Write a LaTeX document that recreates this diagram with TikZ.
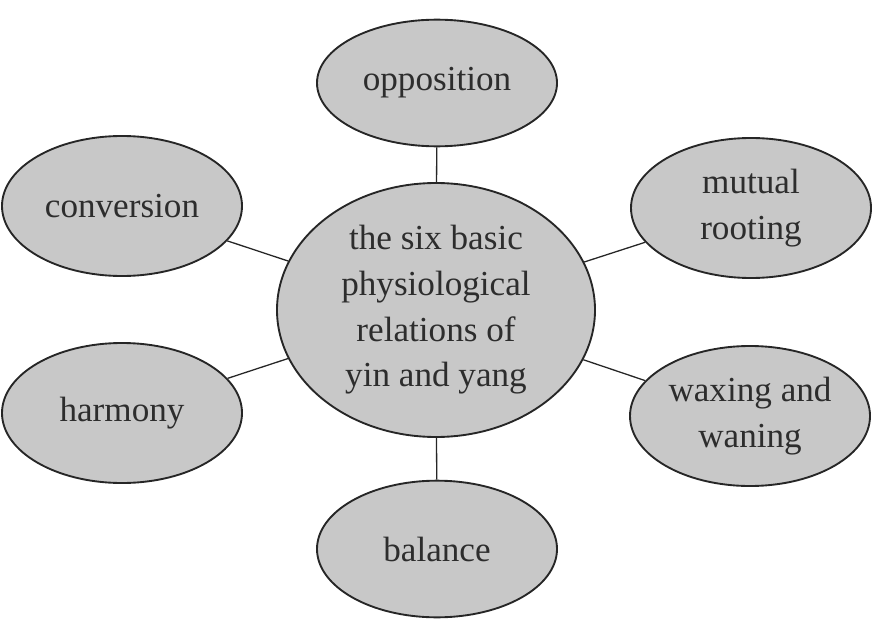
\documentclass[tikz,border=0pt]{standalone}
\usepackage{fontspec}
\setmainfont{Liberation Serif}
\usetikzlibrary{shapes.geometric}
\definecolor{ovalgray}{RGB}{200,200,200}
\definecolor{inkgray}{RGB}{45,45,45}
\begin{document}
\begin{tikzpicture}[
relation/.style={ellipse, draw=black!85, line width=1.6pt, fill=ovalgray, text=inkgray,
  inner sep=0pt, minimum width=7.2cm, minimum height=4.2cm, align=center,
  font=\fontsize{30}{39}\selectfont},
core/.style={relation, minimum width=9.54cm, minimum height=7.62cm},
link/.style={draw=black!85, line width=1.1pt}]
\useasboundingbox (0,0) rectangle (26.25,18.75);
\node[core] (yy) at (13.08,9.45) {the six basic\\physiological\\relations of\\yin and yang};
\node[relation, minimum height=3.8cm] (opp) at (13.11,16.26) {opposition};
\node[relation] (conv) at (3.66,12.57) {conversion};
\node[relation] (root) at (22.53,12.51) {mutual\\rooting};
\node[relation] (harm) at (3.66,6.36) {harmony};
\node[relation] (wax) at (22.5,6.27) {waxing and\\waning};
\node[relation, minimum height=4.1cm] (bal) at (13.11,2.28) {balance};
% spokes
\foreach \n in {opp,conv,root,harm,wax,bal}
  \draw[link] (yy) -- (\n);
\end{tikzpicture}
\end{document}
